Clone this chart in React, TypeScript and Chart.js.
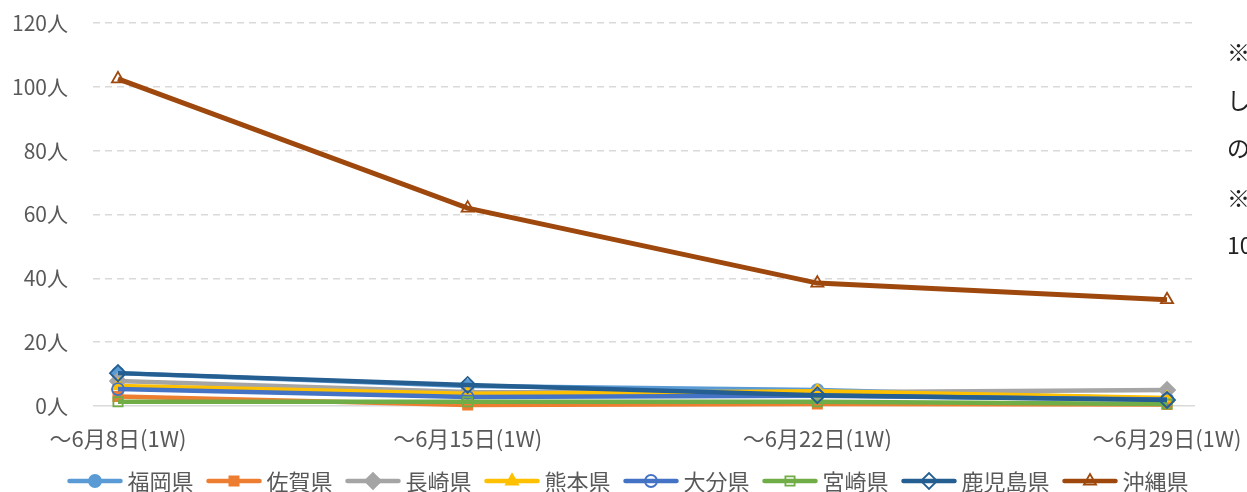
import React, { useEffect, useRef } from "react";
import { Chart, registerables } from "chart.js";
import { drawPoint } from "chart.js/helpers";

Chart.register(...registerables);

const categories = ["〜6月8日(1W)", "〜6月15日(1W)", "〜6月22日(1W)", "〜6月29日(1W)"];
const yTickValues = [0, 20, 40, 60, 80, 100, 120];

const fukuoka = [10.3, 6.3, 5.0, 2.2];
const saga = [3.0, 0.3, 0.6, 0.5];
const nagasaki = [7.8, 4.4, 4.3, 5.0];
const kumamoto = [6.3, 3.8, 4.6, 2.5];
const oita = [5.3, 2.8, 3.2, 2.0];
const miyazaki = [1.3, 1.3, 1.3, 0.6];
const kagoshima = [10.3, 6.6, 3.4, 1.9];
const okinawa = [102.5, 62.0, 38.5, 33.3];

const seriesNames = ["福岡県", "佐賀県", "長崎県", "熊本県", "大分県", "宮崎県", "鹿児島県", "沖縄県"];
const seriesValues = [fukuoka, saga, nagasaki, kumamoto, oita, miyazaki, kagoshima, okinawa];
const seriesColors = ["#5B9BD5", "#ED7D31", "#A5A5A5", "#FFC000", "#4472C4", "#70AD47", "#255E91", "#9E480E"];
const seriesMarkers = ["circle", "rect", "rectRot", "triangle", "circle", "rect", "rectRot", "triangle"];
const seriesHollow = [false, false, false, false, true, true, true, true];

const noteLines = ["※", "し", "の", "※", "10"];

const FONT = '"Noto Sans CJK JP", "Noto Sans", sans-serif';
const TEXT = "#595959";

function markerRadius(style: string) {
  if (style === "rectRot") return 8;
  if (style === "triangle") return 7;
  if (style === "rect") return 6.5;
  return 6;
}

const legendPlugin = {
  id: "excelLegend",
  afterDraw(chart: any) {
    const ctx = chart.ctx;
    ctx.save();
    ctx.font = `22px ${FONT}`;
    const lineLen = 55;
    const gapText = 5;
    const gapItem = 13;
    const widths = seriesNames.map((n) => ctx.measureText(n).width);
    const total = widths.reduce((a, w) => a + lineLen + gapText + w, 0) + gapItem * (seriesNames.length - 1);
    let x = 628 - total / 2;
    const y = 481;
    seriesNames.forEach((name, i) => {
      ctx.strokeStyle = seriesColors[i];
      ctx.lineWidth = 4.5;
      ctx.lineCap = "round";
      ctx.beginPath();
      ctx.moveTo(x + 2, y);
      ctx.lineTo(x + lineLen - 2, y);
      ctx.stroke();
      ctx.fillStyle = seriesHollow[i] ? "rgba(0,0,0,0)" : seriesColors[i];
      ctx.lineWidth = 1.8;
      drawPoint(ctx, { pointStyle: seriesMarkers[i], radius: markerRadius(seriesMarkers[i]), borderWidth: 1.8, rotation: 0 }, x + lineLen / 2, y);
      ctx.fillStyle = TEXT;
      ctx.textBaseline = "middle";
      ctx.textAlign = "left";
      ctx.fillText(name, x + lineLen + gapText, y + 1);
      x += lineLen + gapText + widths[i] + gapItem;
    });
    ctx.font = `23px ${FONT}`;
    ctx.fillStyle = "#222";
    ctx.textBaseline = "middle";
    const ys = [52, 100, 148, 198, 245];
    noteLines.forEach((t, i) => ctx.fillText(t, 1227, ys[i]));
    ctx.restore();
  },
};

export default function App() {
  const ref = useRef<HTMLCanvasElement | null>(null);
  useEffect(() => {
    if (!ref.current) return;
    const datasets = seriesNames.map((name, i) => ({
      label: name,
      data: seriesValues[i].map((v, j) => ({ x: j, y: v })),
      borderColor: seriesColors[i],
      backgroundColor: seriesHollow[i] ? "rgba(0,0,0,0)" : seriesColors[i],
      pointBackgroundColor: seriesHollow[i] ? "rgba(0,0,0,0)" : seriesColors[i],
      pointBorderColor: seriesColors[i],
      pointStyle: seriesMarkers[i],
      pointRadius: markerRadius(seriesMarkers[i]),
      pointBorderWidth: 1.8,
      borderWidth: i === 7 ? 5 : 4.5,
      tension: 0,
      order: seriesNames.length - i,
      clip: false as any,
    }));
    const chart = new Chart(ref.current, {
      type: "line",
      data: { datasets },
      plugins: [legendPlugin],
      options: {
        animation: false,
        responsive: false,
        maintainAspectRatio: false,
        layout: { padding: { top: 23, right: 52, bottom: 20, left: 0 } },
        plugins: { legend: { display: false }, tooltip: { enabled: false } },
        scales: {
          x: {
            type: "linear",
            min: -0.0715,
            max: 3.08,
            afterBuildTicks: (s: any) => {
              s.ticks = categories.map((_, i) => ({ value: i }));
            },
            afterFit: (s: any) => {
              s.height = 492 - 406 - 20;
              s.paddingLeft = 0;
              s.paddingRight = 0;
            },
            ticks: {
              callback: (v: any) => categories[v] ?? "",
              font: { family: FONT, size: 22 },
              color: TEXT,
              padding: 19,
              maxRotation: 0,
              autoSkip: false,
            },
            grid: { display: false, drawTicks: false },
            border: { display: false },
          },
          y: {
            min: 0,
            max: 120,
            afterBuildTicks: (s: any) => {
              s.ticks = yTickValues.map((v) => ({ value: v }));
            },
            afterFit: (s: any) => {
              s.width = 93;
              s.paddingTop = 0;
              s.paddingBottom = 0;
            },
            ticks: {
              callback: (v: any) => `${v}人`,
              font: { family: FONT, size: 21 },
              color: TEXT,
              padding: 25,
            },
            grid: {
              color: "#D9D9D9",
              lineWidth: 1.5,
              drawTicks: false,
            },
            border: {
              display: false,
              dash: (c: any) => (c.tick && c.tick.value === 0 ? [] : [7, 5]),
            } as any,
          },
        },
      },
    });
    return () => chart.destroy();
  }, []);
  return (
    <div style={{ position: "fixed", left: 0, top: 0, width: 1247, height: 492, background: "#fff" }}>
      <canvas ref={ref} width={1247} height={492} style={{ width: 1247, height: 492 }} />
    </div>
  );
}
